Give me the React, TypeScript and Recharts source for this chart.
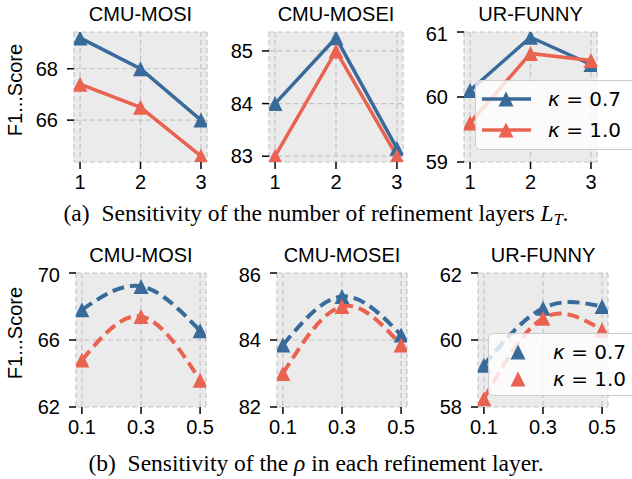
import React from 'react';
import { LineChart, Line, XAxis, YAxis, CartesianGrid } from 'recharts';

const layers = [1, 2, 3];
const rhos = [0.1, 0.3, 0.5];

const mosiLayerK07 = [69.2, 68.0, 66.0];
const mosiLayerK10 = [67.4, 66.5, 64.6];
const moseiLayerK07 = [84.0, 85.25, 83.15];
const moseiLayerK10 = [83.0, 85.0, 83.0];
const funnyLayerK07 = [60.1, 60.92, 60.5];
const funnyLayerK10 = [59.6, 60.67, 60.56];

const mosiRhoK07 = [67.8, 69.2, 66.55];
const mosiRhoK10 = [64.8, 67.4, 63.6];
const moseiRhoK07 = [83.85, 85.3, 84.15];
const moseiRhoK10 = [83.0, 85.0, 83.85];
const funnyRhoK07 = [59.25, 60.95, 61.0];
const funnyRhoK10 = [58.25, 60.65, 60.3];

const kappaLabels = ['0.7', '1.0'];

const BLUE = '#386a9a';
const RED = '#ea6350';
const SANS = '"Liberation Sans", Arial, sans-serif';

function toRows(xs: number[], a: number[], b: number[]) {
  return xs.map((x, i) => ({ x, k07: a[i], k10: b[i] }));
}

function triangle(color: string) {
  return (p: any) => {
    const { cx, cy } = p;
    if (cx == null || cy == null) return <g key={`n-${p.index}`} />;
    const h = 7.5;
    return (
      <path
        key={`t-${p.index}`}
        d={`M${cx},${cy - h} L${cx + h},${cy + h} L${cx - h},${cy + h} Z`}
        fill={color}
      />
    );
  };
}

interface PanelProps {
  x: number;
  y: number;
  w: number;
  h: number;
  title: string;
  data: { x: number; k07: number; k10: number }[];
  xDomain: [number, number];
  xTicks: number[];
  yDomain: [number, number];
  yTicks: number[];
  dashed?: boolean;
  fmt?: (v: number) => string;
}

function Panel({ x, y, w, h, title, data, xDomain, xTicks, yDomain, yTicks, dashed, fmt }: PanelProps) {
  const tickStyle = { fill: '#000', fontSize: 20, fontFamily: SANS };
  return (
    <>
      <div
        style={{
          position: 'absolute',
          left: x - 40,
          width: w + 80,
          top: y - 30,
          height: 24,
          lineHeight: '24px',
          textAlign: 'center',
          fontFamily: SANS,
          fontSize: 20,
        }}
      >
        {title}
      </div>
      <div style={{ position: 'absolute', left: x - 70, top: y - 10 }}>
        <LineChart
          width={w + 90}
          height={h + 50}
          data={data}
          margin={{ top: 10, right: 20, left: 0, bottom: 0 }}
        >
          <CartesianGrid
            fill="#ebebeb"
            stroke="#c4c4c4"
            strokeDasharray="5 3"
            strokeWidth={1.2}
          />
          <XAxis
            dataKey="x"
            type="number"
            domain={xDomain}
            ticks={xTicks}
            allowDataOverflow
            axisLine={false}
            tickLine={{ stroke: '#000', strokeWidth: 1.5 }}
            tickSize={7}
            tickMargin={6}
            height={40}
            tick={tickStyle}
            tickFormatter={fmt}
          />
          <YAxis
            type="number"
            domain={yDomain}
            ticks={yTicks}
            allowDataOverflow
            axisLine={false}
            tickLine={{ stroke: '#000', strokeWidth: 1.5 }}
            tickSize={7}
            tickMargin={9}
            width={70}
            tick={tickStyle}
          />
          <Line
            dataKey="k07"
            type={dashed ? 'natural' : 'linear'}
            stroke={BLUE}
            strokeWidth={dashed ? 4 : 3.5}
            strokeDasharray={dashed ? '12 6' : undefined}
            dot={triangle(BLUE)}
            activeDot={false}
            isAnimationActive={false}
          />
          <Line
            dataKey="k10"
            type={dashed ? 'natural' : 'linear'}
            stroke={RED}
            strokeWidth={dashed ? 4 : 3.5}
            strokeDasharray={dashed ? '12 6' : undefined}
            dot={triangle(RED)}
            activeDot={false}
            isAnimationActive={false}
          />
        </LineChart>
      </div>
    </>
  );
}

function Legend({ x, y, withLine }: { x: number; y: number; withLine: boolean }) {
  const colors = [BLUE, RED];
  return (
    <div
      style={{
        position: 'absolute',
        left: x,
        top: y,
        width: 170,
        height: withLine ? 70 : 63,
        background: 'rgba(255,255,255,0.8)',
        border: '1px solid #cccccc',
        borderRadius: 5,
        boxSizing: 'border-box',
      }}
    >
      {kappaLabels.map((lab, i) => (
        <div
          key={lab}
          style={{
            position: 'absolute',
            left: 0,
            top: 5 + i * (withLine ? 31 : 26.5),
            height: 26,
            display: 'flex',
            alignItems: 'center',
          }}
        >
          <svg width={withLine ? 70 : 64} height={26}>
            {withLine && <line x1={6} x2={55} y1={13} y2={13} stroke={colors[i]} strokeWidth={3.5} />}
            <path
              d={withLine ? 'M30,5.5 L37.5,20.5 L22.5,20.5 Z' : 'M29,5.5 L36.5,20.5 L21.5,20.5 Z'}
              fill={colors[i]}
            />
          </svg>
          <span
            style={{
              fontFamily: '"DejaVu Sans", sans-serif',
              fontSize: 20,
              marginLeft: withLine ? 2 : 0,
              whiteSpace: 'pre',
            }}
          >
            <i>κ</i>{' = '}{lab}
          </span>
        </div>
      ))}
    </div>
  );
}

function YLabel({ cy }: { cy: number }) {
  return (
    <div
      style={{
        position: 'absolute',
        left: 15 - 60,
        top: cy - 12,
        width: 120,
        height: 24,
        lineHeight: '24px',
        textAlign: 'center',
        fontFamily: SANS,
        fontSize: 20,
        transform: 'rotate(-90deg)',
      }}
    >
      F1...Score
    </div>
  );
}

const captionStyle: React.CSSProperties = {
  position: 'absolute',
  left: 0,
  width: 632,
  textAlign: 'center',
  fontFamily: '"Liberation Serif", "Times New Roman", serif',
  fontSize: 23.5,
  lineHeight: '26px',
  height: 26,
  whiteSpace: 'nowrap',
};

export default function App() {
  const f1 = (v: number) => v.toFixed(1);
  return (
    <div
      style={{
        position: 'fixed',
        left: 0,
        top: 0,
        width: 632,
        height: 479,
        background: '#fff',
        overflow: 'hidden',
      }}
    >
      <Panel x={74} y={32} w={133} h={130} title="CMU-MOSI" data={toRows(layers, mosiLayerK07, mosiLayerK10)}
        xDomain={[0.9, 3.1]} xTicks={layers} yDomain={[64.37, 69.43]} yTicks={[66, 68]} />
      <Panel x={269} y={32} w={134} h={130} title="CMU-MOSEI" data={toRows(layers, moseiLayerK07, moseiLayerK10)}
        xDomain={[0.9, 3.1]} xTicks={layers} yDomain={[82.89, 85.36]} yTicks={[83, 84, 85]} />
      <Panel x={464} y={32} w={133} h={130} title="UR-FUNNY" data={toRows(layers, funnyLayerK07, funnyLayerK10)}
        xDomain={[0.9, 3.1]} xTicks={layers} yDomain={[59, 61]} yTicks={[59, 60, 61]} />

      <Panel x={76} y={273} w={130} h={134} title="CMU-MOSI" data={toRows(rhos, mosiRhoK07, mosiRhoK10)}
        xDomain={[0.08, 0.52]} xTicks={rhos} yDomain={[62, 70]} yTicks={[62, 66, 70]} dashed fmt={f1} />
      <Panel x={277} y={273} w={130} h={134} title="CMU-MOSEI" data={toRows(rhos, moseiRhoK07, moseiRhoK10)}
        xDomain={[0.08, 0.52]} xTicks={rhos} yDomain={[82, 86]} yTicks={[82, 84, 86]} dashed fmt={f1} />
      <Panel x={478} y={273} w={130} h={134} title="UR-FUNNY" data={toRows(rhos, funnyRhoK07, funnyRhoK10)}
        xDomain={[0.08, 0.52]} xTicks={rhos} yDomain={[58, 62]} yTicks={[58, 60, 62]} dashed fmt={f1} />

      <Legend x={475} y={80} withLine />
      <Legend x={488} y={333} withLine={false} />

      <YLabel cy={90} />
      <YLabel cy={333} />

      <div style={{ ...captionStyle, top: 200 }}>
        (a)&nbsp; Sensitivity of the number of refinement layers <i>L</i>
        <sub style={{ fontSize: 16, fontStyle: 'italic', verticalAlign: '-4px', lineHeight: 0 }}>T</sub>.
      </div>
      <div style={{ ...captionStyle, top: 450 }}>
        (b)&nbsp; Sensitivity of the <i>ρ</i> in each refinement layer.
      </div>
    </div>
  );
}
